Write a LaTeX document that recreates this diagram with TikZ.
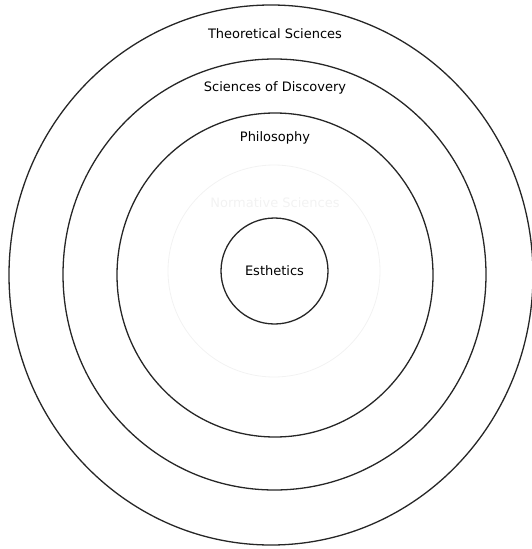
\documentclass[tikz,border=0pt]{standalone}
\usepackage{fontspec}
\setmainfont{DejaVu Sans}
\usepackage{tikz}

\begin{document}
\begin{tikzpicture}[x=1pt, y=-1pt,
    ring/.style={draw=black!85, line width=1.3pt},
    faint/.style={draw=black!5, line width=0.8pt},
    lbl/.style={font=\fontsize{13}{15}\selectfont, text=black, inner sep=0pt}]
  \useasboundingbox (0,0) rectangle (532,549);
  % rings, outside in
  \draw[ring] (271,275) ellipse [x radius=262, y radius=270];
  \draw[ring] (274.5,274.5) ellipse [x radius=211.5, y radius=215.5];
  \draw[ring] (275,275) ellipse [x radius=158, y radius=162];
  \draw[faint] (274,271) ellipse [x radius=106, y radius=106];
  \draw[ring] (274.5,271) ellipse [x radius=53.5, y radius=53];
  % labels
  \node[lbl] (theo) at (275,34) {Theoretical Sciences};
  \node[lbl] (disc) at (275,88) {Sciences of Discovery};
  \node[lbl] (phil) at (275,138) {Philosophy};
  \node[lbl, text=black!5] (norm) at (275,203) {Normative Sciences};
  \node[lbl] (esth) at (274.5,271) {Esthetics};
\end{tikzpicture}
\end{document}
